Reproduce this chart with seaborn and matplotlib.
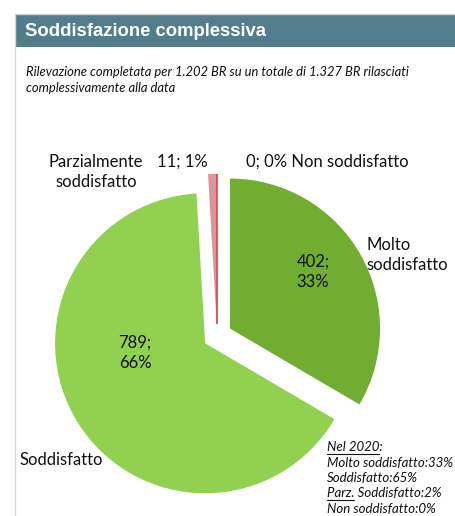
import matplotlib
matplotlib.use("Agg")
import matplotlib.pyplot as plt
import seaborn as sns
from matplotlib.patches import Rectangle
from matplotlib.lines import Line2D

sns.set_theme(style="white")
plt.rcParams['font.family'] = ['Lato', 'DejaVu Sans']

# ---- data ----
categories = ["Molto soddisfatto", "Soddisfatto", "Parzialmente soddisfatto", "Non soddisfatto"]
values = [402, 789, 11, 0]
colors = ["#70AD30", "#92D050", "#D9969A", "#E03C3C"]
explode = [0.1, 0.093, 0.08, 0.08]
title = "Soddisfazione complessiva"
subtitle = ["Rilevazione completata per 1.202 BR su un totale di 1.327 BR rilasciati",
            "complessivamente alla data"]
note_lines = ["Nel 2020:", "Molto soddisfatto:33%", "Soddisfatto:65%",
              "Parz. Soddisfatto:2%", "Non soddisfatto:0%"]

W, H = 455, 516
fig = plt.figure(figsize=(W / 100, H / 100), dpi=100)

def fx(x):
    return x / W

def fy(y):
    return 1 - y / H

# frame & header
fig.add_artist(Rectangle((fx(15), fy(47)), 1 - fx(15), fy(15) - fy(47),
                         transform=fig.transFigure, facecolor="#537D8A", edgecolor="none"))
fig.add_artist(Line2D([fx(15), 1], [fy(14), fy(14)], transform=fig.transFigure,
                      color="#D0D0D0", lw=1))
fig.add_artist(Line2D([fx(15), fx(15)], [fy(14), 0], transform=fig.transFigure,
                      color="#D8D8D8", lw=1))
fig.text(fx(25), fy(31), title, color="white", fontsize=13.3, fontweight="bold",
         family=["Liberation Sans", "DejaVu Sans"], va="center", ha="left")
fig.text(fx(26), fy(72), subtitle[0], fontsize=9.4, style="italic", va="center", ha="left",
         color="#111111")
fig.text(fx(26), fy(88), subtitle[1], fontsize=9.4, style="italic", va="center", ha="left",
         color="#111111")

# pie axes: 150 px per unit, centre at pixel (217, 336)
R = 150.0
cx, cy = 217.0, 336.0
ax = fig.add_axes([0, 0, 1, 1])
wedges, _ = ax.pie(values, colors=colors, explode=explode, startangle=90,
                   counterclock=False, radius=1.0,
                   wedgeprops=dict(linewidth=0))
ax.set_xlim(-cx / R, (W - cx) / R)
ax.set_ylim((cy - H) / R, cy / R)
ax.set_aspect("auto")
ax.axis("off")
wedges[3].set_edgecolor(colors[3])
wedges[3].set_linewidth(1.2)

total = sum(values)
pct = [round(v * 100 / total) for v in values]
lab = [f"{v};\n{p}%" for v, p in zip(values, pct)]

fs = 12
fig.text(fx(313), fy(272), lab[0], fontsize=fs, ha="center", va="center", linespacing=1.3,
         color="#111111")
fig.text(fx(135), fy(353), lab[1], fontsize=fs, ha="center", va="center", linespacing=1.3,
         color="#111111")
fig.text(fx(182), fy(162), f"{values[2]}; {pct[2]}%", fontsize=fs, ha="center", va="center",
         color="#111111")
fig.text(fx(246), fy(162), f"{values[3]}; {pct[3]}% Non soddisfatto", fontsize=fs, ha="left",
         va="center", color="#111111")
fig.text(fx(366), fy(255), "Molto\nsoddisfatto", fontsize=fs, ha="left", va="center",
         linespacing=1.3, color="#111111")
fig.text(fx(96), fy(172), "Parzialmente\nsoddisfatto", fontsize=fs, ha="center", va="center",
         linespacing=1.3, color="#111111")
fig.text(fx(20), fy(460), "Soddisfatto", fontsize=fs, ha="left", va="center", color="#111111")

# note
ys = [447, 462.5, 478, 493.5, 509]
for t, y in zip(note_lines, ys):
    fig.text(fx(327), fy(y), t, fontsize=9.5, style="italic", ha="left", va="center",
             color="#111111")
fig.add_artist(Line2D([fx(327), fx(379)], [fy(453.5), fy(453.5)], transform=fig.transFigure,
                      color="#111111", lw=0.8))
fig.add_artist(Line2D([fx(327), fx(354)], [fy(500), fy(500)], transform=fig.transFigure,
                      color="#111111", lw=0.8))

fig.savefig("out.png", dpi=100)
